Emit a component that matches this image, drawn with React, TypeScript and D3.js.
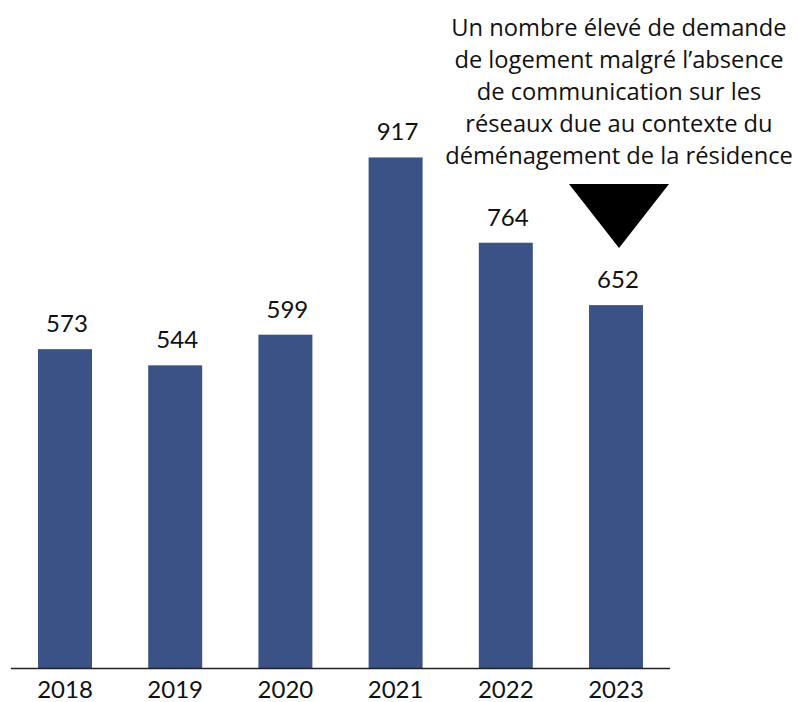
import React from "react";
import * as d3 from "d3";

const years = ["2018", "2019", "2020", "2021", "2022", "2023"];
const values = [573, 544, 599, 917, 764, 652];
const annotationLines = [
  "Un nombre élevé de demande",
  "de logement malgré l’absence",
  "de communication sur les",
  "réseaux due au contexte du",
  "déménagement de la résidence",
];
const annotatedYear = "2023";

const W = 798;
const H = 702;
const FONT = "Lato, 'Open Sans', sans-serif";
const ANN_FONT = "'Open Sans', Lato, sans-serif";

export default function App() {
  const x = d3.scaleBand<string>().domain(years).range([11, 670]).paddingInner(0.51).paddingOuter(0.245);
  const baseY = 668.5;
  const y = d3.scaleLinear().domain([0, 1000]).range([baseY, baseY - 557.3]);
  const cx = (x(annotatedYear) as number) + x.bandwidth() / 2 + 3;
  const triTop = 184;
  const triBottom = 248;
  const triHalf = 50;
  const tri = d3.line()([
    [cx - triHalf, triTop],
    [cx + triHalf, triTop],
    [cx, triBottom],
  ]) + "Z";

  return (
    <svg width={W} height={H} style={{ position: "absolute", left: 0, top: 0, background: "#fff" }}>
      {years.map((yr, i) => (
        <rect key={yr} x={x(yr)} y={y(values[i])} width={x.bandwidth()} height={baseY - y(values[i])} fill="#3A5286" />
      ))}
      <line x1={11} x2={670} y1={baseY} y2={baseY} stroke="#222" strokeWidth={1.5} />
      {years.map((yr, i) => (
        <text key={"v" + yr} x={(x(yr) as number) + x.bandwidth() / 2 + 2} y={y(values[i]) - 17} textAnchor="middle"
          fontFamily={FONT} fontSize={24} fill="#111">{values[i]}</text>
      ))}
      {years.map((yr) => (
        <text key={"t" + yr} x={(x(yr) as number) + x.bandwidth() / 2} y={698} textAnchor="middle"
          fontFamily={FONT} fontSize={24} fill="#111">{yr}</text>
      ))}
      {annotationLines.map((l, i) => (
        <text key={"a" + i} x={619} y={36 + i * 32} textAnchor="middle" fontFamily={ANN_FONT} fontSize={23.7} fill="#111">{l}</text>
      ))}
      <path d={tri} fill="#000" />
    </svg>
  );
}
